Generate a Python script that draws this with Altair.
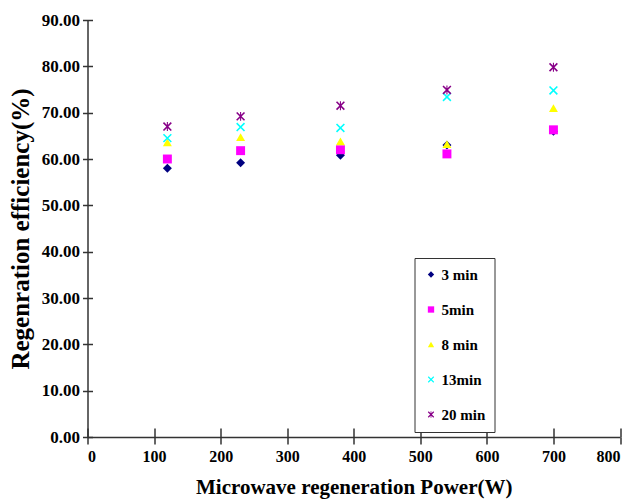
import altair as alt
import pandas as pd

power = [120, 230, 380, 540, 700]
series_names = ["3 min", "5min", "8 min", "13min", "20 min"]
eff_3 = [58.0, 59.2, 60.8, 63.0, 66.0]
eff_5 = [60.0, 61.8, 62.0, 61.1, 66.3]
eff_8 = [63.6, 64.7, 63.8, 63.2, 71.0]
eff_13 = [64.5, 66.9, 66.7, 73.4, 74.8]
eff_20 = [67.0, 69.2, 71.5, 74.9, 79.8]

colors = ["#000080", "#FF00FF", "#FFFF00", "#00FFFF", "#880088"]
x_path = "M-1,-0.75L-0.75,-1L1,0.75L0.75,1Z M-0.75,1L-1,0.75L0.75,-1L1,-0.75Z"
star_path = x_path + " M-0.12,-1L0.12,-1L0.12,1L-0.12,1Z"
shapes = ["diamond", "square", "triangle-up", x_path, star_path]

rows = []
for name, vals in zip(series_names, [eff_3, eff_5, eff_8, eff_13, eff_20]):
    for p, v in zip(power, vals):
        rows.append({"Power": p, "Efficiency": v, "Series": name})
df = pd.DataFrame(rows)

FONT = "Liberation Serif"
x_ticks = list(range(0, 801, 100))
y_ticks = list(range(0, 91, 10))

x_scale = alt.Scale(domain=[0, 800], nice=False)
y_scale = alt.Scale(domain=[0, 90], nice=False)

points = alt.Chart(df).mark_point(filled=True, size=80, opacity=1, strokeWidth=0).encode(
    x=alt.X("Power:Q", scale=x_scale,
            axis=alt.Axis(orient="bottom", values=x_ticks, format="d", title="Microwave regeneration Power(W)",
                          grid=False, tickSize=7, tickColor="#333", domainColor="#333", domainWidth=1.5,
                          tickWidth=1.5, labelFont=FONT, labelFontSize=16, labelFontWeight="bold",
                          labelColor="black", labelPadding=4, titleFont=FONT, titleFontSize=21,
                          titleFontWeight="bold", titleColor="black", titleBaseline="alphabetic",
                          titleY=56)),
    y=alt.Y("Efficiency:Q", scale=y_scale,
            axis=alt.Axis(orient="left", values=y_ticks, format=".2f", title="Regenration efficiency(%)",
                          grid=False, tickSize=5, tickColor="#333", domainColor="#333", domainWidth=1.5,
                          tickWidth=1.5, labelFont=FONT, labelFontSize=17, labelFontWeight="bold",
                          labelColor="black", labelPadding=3, titleFont=FONT, titleFontSize=25,
                          titleFontWeight="bold", titleColor="black", titleX=-67,
                          titleBaseline="middle")),
    color=alt.Color("Series:N", scale=alt.Scale(domain=series_names, range=colors),
                    legend=alt.Legend(title=None, orient="none", legendX=327, legendY=238,
                                      strokeColor="#333", padding=9, rowPadding=19,
                                      labelFont=FONT, labelFontSize=15, labelFontWeight="bold",
                                      labelColor="black", symbolSize=40, symbolStrokeWidth=0,
                                      labelOffset=3, fillColor="white")),
    shape=alt.Shape("Series:N", scale=alt.Scale(domain=series_names, range=shapes)),
    order=alt.Order("order:Q"),
).transform_calculate(order="indexof(%s, datum.Series)" % str(series_names))

inner_ticks = alt.Chart(df).mark_point(opacity=0).encode(
    x=alt.X("Power:Q", scale=x_scale,
            axis=alt.Axis(orient="bottom", values=x_ticks, labels=False, domain=False, title=None,
                          grid=False, tickSize=9, offset=-9, tickColor="#333", tickWidth=1.5)),
    y=alt.Y("Efficiency:Q", scale=y_scale,
            axis=alt.Axis(orient="left", values=y_ticks, labels=False, domain=False, title=None,
                          grid=False, tickSize=5, offset=-5, tickColor="#333", tickWidth=1.5)),
)

chart = alt.layer(points, inner_ticks).resolve_axis(x="independent", y="independent").properties(
    width=532.5, height=417,
    autosize=alt.AutoSizeParams(type="none"),
    padding={"left": 79.5, "top": 12, "right": 5, "bottom": 63},
    background="white",
).configure_view(stroke=None)

chart.save("out.html", embed_options={"renderer": "svg", "actions": False})
